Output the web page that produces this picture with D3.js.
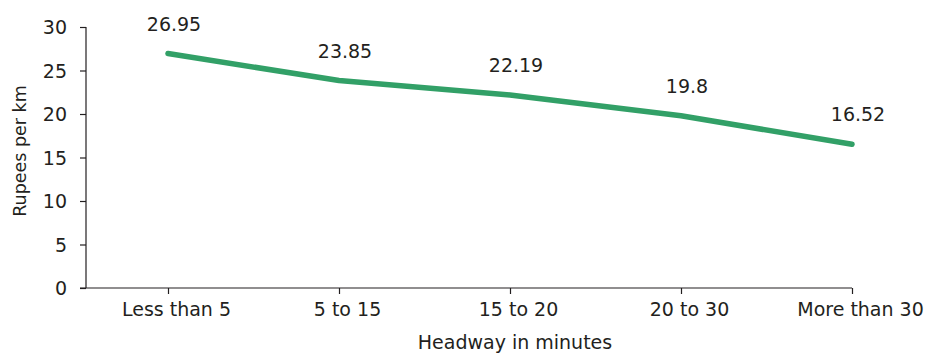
<!DOCTYPE html>
<html>
<head>
<meta charset="utf-8">
<script src="https://cdn.jsdelivr.net/npm/d3@7"></script>
<style>
  html, body { margin: 0; padding: 0; background: #fff; }
  svg { display: block; }
  text { font-family: "DejaVu Sans", "Open Sans", sans-serif; fill: #231f20; }
</style>
</head>
<body>
<svg id="chart" width="932" height="354"></svg>
<script>
// Cost per km by service headway
const categories = ["Less than 5", "5 to 15", "15 to 20", "20 to 30", "More than 30"];
const values = [26.95, 23.85, 22.19, 19.8, 16.52];
const yTicks = [0, 5, 10, 15, 20, 25, 30];

const svg = d3.select("#chart");
const plotLeft = 86, plotRight = 852, plotTop = 27, plotBottom = 288;
const step = 171;
const fontSize = "19px";

const x = d3.scalePoint()
  .domain(categories)
  .range([plotRight - step * (categories.length - 1), plotRight]);

const y = d3.scaleLinear()
  .domain([0, 30])
  .range([plotBottom, plotTop]);

// Y axis
const yAxis = svg.append("g")
  .attr("transform", `translate(${plotLeft},0)`)
  .call(d3.axisLeft(y).tickValues(yTicks).tickSize(6).tickPadding(13));
yAxis.select(".domain").attr("stroke", "#231f20").attr("stroke-width", 1.2)
  .attr("d", `M0,${plotTop}V${plotBottom}`);
yAxis.selectAll(".tick line").attr("stroke", "#231f20").attr("stroke-width", 1.2);
yAxis.selectAll(".tick text")
  .style("font-size", fontSize)
  .attr("dy", "0.36em")
  .attr("fill", "#231f20");

// X axis
const xAxis = svg.append("g")
  .attr("transform", `translate(0,${plotBottom})`)
  .call(d3.axisBottom(x).tickSize(6).tickPadding(9));
xAxis.select(".domain").attr("stroke", "#231f20").attr("stroke-width", 1.2)
  .attr("d", `M${plotLeft - 6},0H${plotRight}`);
xAxis.selectAll(".tick line").attr("stroke", "#231f20").attr("stroke-width", 1.2);
xAxis.selectAll(".tick text")
  .style("font-size", fontSize)
  .attr("dx", 8)
  .attr("fill", "#231f20");

// Axis titles
svg.append("text")
  .attr("x", 515).attr("y", 349)
  .attr("text-anchor", "middle")
  .style("font-size", fontSize)
  .text("Headway in minutes");

svg.append("text")
  .attr("transform", "translate(26,151) rotate(-90)")
  .attr("text-anchor", "middle")
  .style("font-size", "17.5px")
  .text("Rupees per km");

// Series line
const line = d3.line()
  .x((d, i) => x(categories[i]))
  .y(d => y(d));

svg.append("path")
  .datum(values)
  .attr("fill", "none")
  .attr("stroke", "#32a067")
  .attr("stroke-width", 5.5)
  .attr("stroke-linecap", "round")
  .attr("stroke-linejoin", "round")
  .attr("d", line);

// Value labels
svg.append("g").selectAll("text")
  .data(values)
  .join("text")
  .attr("x", (d, i) => x(categories[i]) + 6)
  .attr("y", d => y(d) - 23)
  .attr("text-anchor", "middle")
  .style("font-size", fontSize)
  .text(d => d);
</script>
</body>
</html>
